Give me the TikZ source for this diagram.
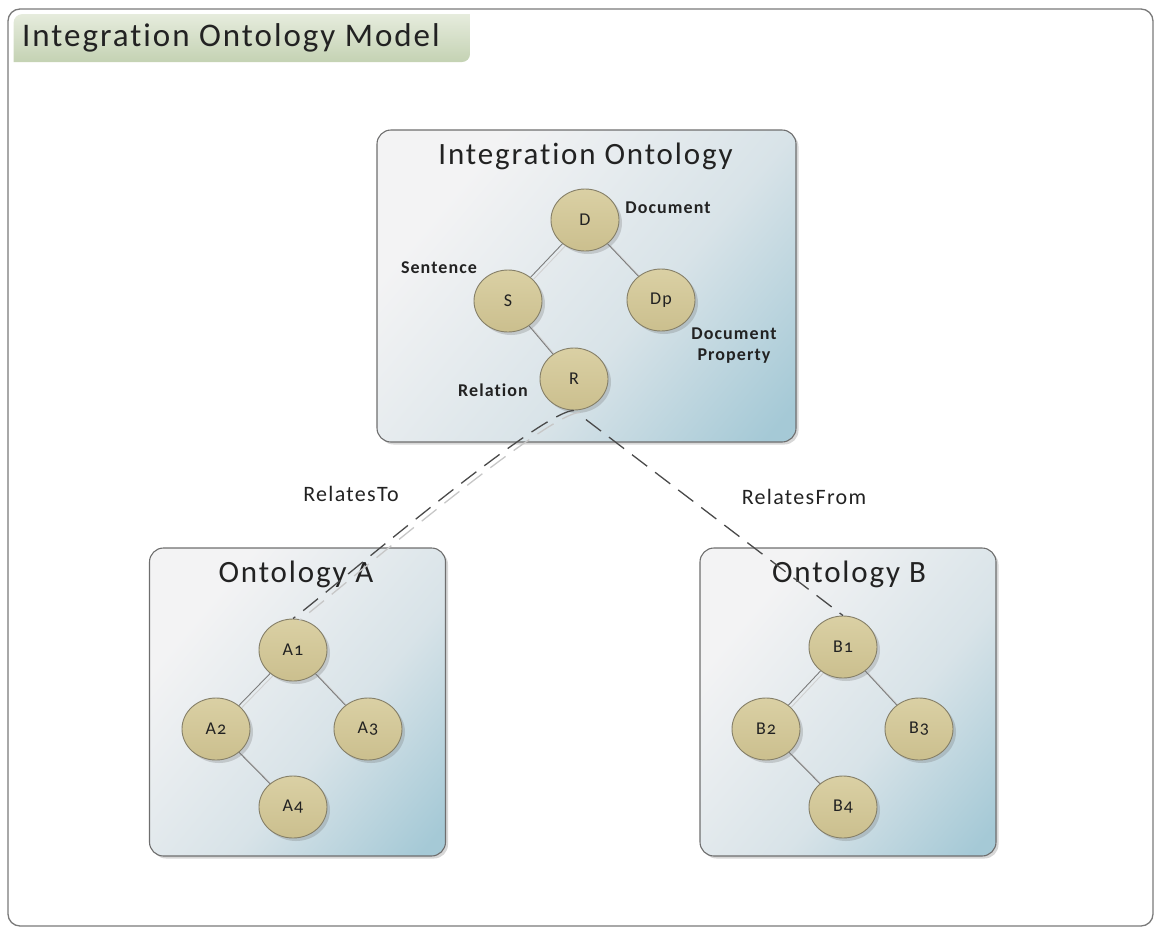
\documentclass[tikz,border=0pt]{standalone}
\usepackage{fontspec}
\setmainfont{Carlito}[Numbers=OldStyle, LetterSpace=6, Ligatures={NoCommon}]
\usetikzlibrary{shapes.geometric,shadows}

\definecolor{framecol}{HTML}{7A7A7A}
\definecolor{panellight}{HTML}{F3F3F4}
\definecolor{panelmid}{HTML}{D8E3E8}
\definecolor{panelblue}{HTML}{A5C9D6}
\definecolor{paneledge}{HTML}{6E6E6E}
\definecolor{tabtop}{HTML}{E6ECDD}
\definecolor{tabbot}{HTML}{C4D2B3}
\definecolor{nodelight}{HTML}{DAD0A4}
\definecolor{nodedark}{HTML}{CBBF8E}
\definecolor{nodeedge}{HTML}{857F68}
\definecolor{linkcol}{HTML}{7C7C7C}
\definecolor{dashcol}{HTML}{4A4A4A}
\definecolor{textcol}{HTML}{222222}

\pgfdeclarehorizontalshading{panelshade}{100bp}{%
  color(0bp)=(panellight); color(28bp)=(panellight);
  color(58bp)=(panelmid); color(82bp)=(panelblue); color(100bp)=(panelblue)}

\pgfdeclarelayer{panels}
\pgfdeclarelayer{links}
\pgfsetlayers{panels,links,main}

\tikzset{
  panel/.style={draw=paneledge, line width=1.1pt, rounded corners=14pt,
    shading=panelshade, shading angle=-40,
    drop shadow={shadow xshift=2.5pt, shadow yshift=-2.5pt, opacity=0.35, fill=black!45}},
  paneltitle/.style={anchor=base, font=\fontsize{31}{31}\selectfont, text=textcol, inner sep=0pt},
  concept/.style={ellipse, draw=nodeedge, line width=0.9pt, minimum width=68pt,
    minimum height=62pt, inner sep=0pt, top color=nodelight, bottom color=nodedark,
    font=\fontsize{18}{18}\selectfont, text=textcol,
    drop shadow={shadow xshift=3pt, shadow yshift=-3pt, opacity=0.25, fill=black!60}},
  tag/.style={font=\bfseries\fontsize{18}{21}\selectfont, text=textcol, align=center, inner sep=0pt},
  linklabel/.style={font=\fontsize{22}{22}\selectfont, text=textcol, inner sep=0pt},
  link/.style={draw=linkcol, line width=0.9pt},
  linkshade/.style={draw=black!18, line width=0.9pt,
    transform canvas={xshift=3pt, yshift=-2pt}},
  relates/.style={draw=dashcol, line width=1.3pt, dash pattern=on 19pt off 10pt},
  relatesshade/.style={draw=black!22, line width=1.3pt, dash pattern=on 19pt off 10pt,
    transform canvas={xshift=6pt, yshift=-2pt}},
}

\begin{document}
\begin{tikzpicture}[x=1pt, y=1pt]
\useasboundingbox (0,0) rectangle (1154,-927);

% outer frame and heading tab
\node[draw=framecol, line width=1.3pt, rounded corners=12pt, minimum width=1145pt,
  minimum height=917pt, inner sep=0pt] (frame) at (580.5,-467.5) {};
\shade[top color=tabtop, bottom color=tabbot]
  (13.5,-62) -- (13.5,-23) arc (180:90:9) -- (470,-14) -- (470,-54) arc (0:-90:8) -- cycle;
\node[anchor=base west, inner sep=0pt, font=\fontsize{33}{33}\selectfont, text=textcol]
  (heading) at (22,-46) {Integration Ontology Model};

% panels
\begin{pgfonlayer}{panels}
\node[panel, minimum width=419pt, minimum height=312pt] (io) at (586.5,-286) {};
\node[panel, minimum width=296pt, minimum height=308pt] (oa) at (297.5,-702) {};
\node[panel, minimum width=296pt, minimum height=308pt] (ob) at (848,-702) {};
\end{pgfonlayer}
\node[paneltitle] (iotitle) at (585.5,-164) {Integration Ontology};
\node[paneltitle] (oatitle) at (296,-582) {Ontology A};
\node[paneltitle] (obtitle) at (849,-582) {Ontology B};

% integration ontology concepts
\node[concept] (D)  at (585,-220) {D};
\node[concept] (S)  at (508,-301) {S};
\node[concept] (Dp) at (661,-300) {Dp};
\node[concept] (R)  at (574,-379) {R};
\node[tag] (tD)  at (668,-208) {Document};
\node[tag] (tS)  at (439,-268) {Sentence};
\node[tag] (tDp) at (734,-346) {Document\\Property};
\node[tag] (tR)  at (493,-390) {Relation};

% ontology A concepts
\node[concept] (A1) at (293,-650) {A1};
\node[concept] (A2) at (216,-729) {A2};
\node[concept] (A3) at (368,-729) {A3};
\node[concept] (A4) at (293,-807) {A4};

% ontology B concepts
\node[concept] (B1) at (843,-647) {B1};
\node[concept] (B2) at (766,-729) {B2};
\node[concept] (B3) at (919,-729) {B3};
\node[concept] (B4) at (843,-807) {B4};

% tree links
\begin{pgfonlayer}{links}
\foreach \a/\b in {D/S, D/Dp, S/R, A1/A2, A1/A3, A2/A4, B1/B2, B1/B3, B2/B4}{
  \draw[linkshade] (\a) -- (\b);
  \draw[link] (\a) -- (\b);
}
\end{pgfonlayer}

% mappings between ontologies
\draw[relatesshade] (R.south) to[out=180, in=36, looseness=0.25] (A1.north);
\draw[relates] (R.south) to[out=180, in=36, looseness=0.25] (A1.north);
\draw[relates, shorten <=15pt] (R.south) -- (B1.north);
\node[linklabel, anchor=base] (rt) at (351,-501) {RelatesTo};
\node[linklabel, anchor=base] (rf) at (804,-504) {RelatesFrom};
\end{tikzpicture}
\end{document}
